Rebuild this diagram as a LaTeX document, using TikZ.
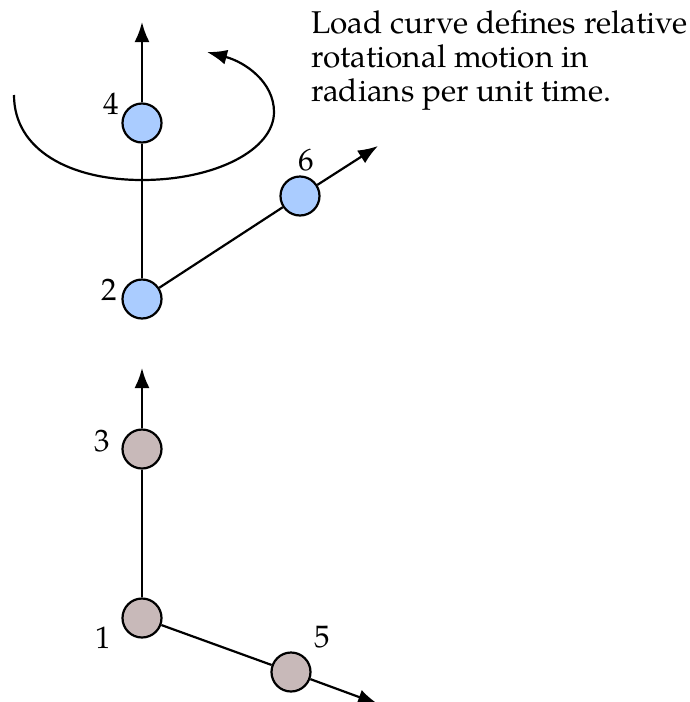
\documentclass[tikz,border=0pt]{standalone}
\usepackage{fontspec}
\setmainfont{TeX Gyre Pagella}
\usetikzlibrary{arrows.meta}
\definecolor{nodeblue}{RGB}{170,204,255}
\definecolor{nodebrown}{RGB}{200,185,185}
\begin{document}
\begin{tikzpicture}[x=1pt,y=-1pt,
  joint/.style={circle,draw=black,line width=2.2pt,minimum size=39pt,inner sep=0pt},
  bluejoint/.style={joint,fill=nodeblue},
  brownjoint/.style={joint,fill=nodebrown},
  lbl/.style={inner sep=0pt,font=\fontsize{31}{34}\selectfont},
  txtline/.style={inner sep=0pt,anchor=base west,font=\fontsize{31.5}{34}\selectfont},
  link/.style={line width=2.2pt},
  arr/.style={line width=2.2pt,-{Latex[length=20pt,width=15pt]}}]
\useasboundingbox (0,0) rectangle (690,702);
% upper body
\node[bluejoint] (n4) at (142,123) {};
\node[bluejoint] (n2) at (142,299) {};
\node[bluejoint] (n6) at (300,196) {};
\coordinate (t4) at (142,22);
\coordinate (t6) at (378,146);
\draw[link] (n2) -- (n4);
\draw[link] (n2) -- (n6);
\draw[arr] (n4) -- (t4);
\draw[arr] (n6) -- (t6);
\node[lbl] (l4) at (111,104) {4};
\node[lbl] (l2) at (109,290) {2};
\node[lbl] (l6) at (306,160) {6};
% rotation arrow
\coordinate (r0) at (14,95);
\coordinate (rb) at (142,180);
\coordinate (rr) at (274,112);
\coordinate (rt) at (207,52);
\draw[arr] (r0) .. controls (14,150) and (70,180) .. (rb)
  .. controls (215,180) and (274,150) .. (rr)
  .. controls (274,82) and (245,62) .. (rt);
% text
\node[txtline] (txt1) at (311,33) {Load curve defines relative};
\node[txtline] (txt2) at (311,67) {rotational motion in};
\node[txtline] (txt3) at (311,101) {radians per unit time.};
% lower body
\node[brownjoint] (n3) at (142,449) {};
\node[brownjoint] (n1) at (142,618) {};
\node[brownjoint] (n5) at (291,672) {};
\coordinate (t3) at (142,368);
\coordinate (t5) at (378,704);
\draw[link] (n1) -- (n3);
\draw[link] (n1) -- (n5);
\draw[arr] (n3) -- (t3);
\draw[arr] (n5) -- (t5);
\node[lbl] (l3) at (102.5,441) {3};
\node[lbl] (l1) at (103,638) {1};
\node[lbl] (l5) at (322,637) {5};
\end{tikzpicture}
\end{document}
